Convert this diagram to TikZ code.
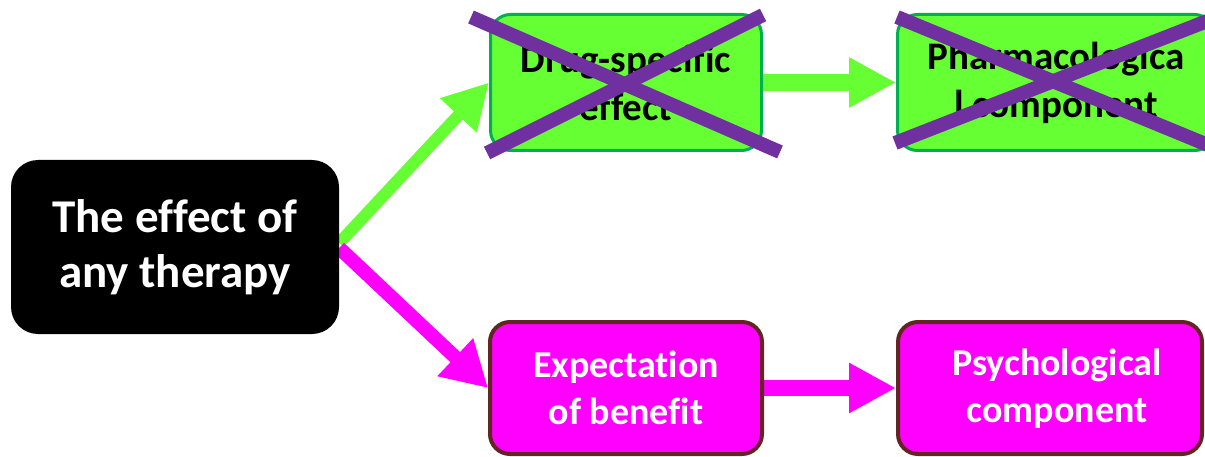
\documentclass[tikz,border=0pt]{standalone}
\usepackage{fontspec}
\setmainfont{Carlito}[Ligatures=NoCommon]
\usetikzlibrary{arrows.meta,backgrounds}
\definecolor{lgreen}{HTML}{66FF33}
\definecolor{dgreen}{HTML}{00B050}
\definecolor{magc}{HTML}{FF00FF}
\definecolor{brownc}{HTML}{632523}
\definecolor{purp}{HTML}{7030A0}
\tikzset{
  blackbox/.style={fill=black, rounded corners=27pt, minimum width=328pt, minimum height=174pt,
    text=white, font=\fontsize{47}{55}\selectfont\bfseries, align=center, inner sep=0pt},
  greenbox/.style={fill=lgreen, draw=dgreen, line width=3pt, rounded corners=20pt,
    minimum height=136pt, text=black, font=\fontsize{39}{48}\selectfont\bfseries, align=center, inner sep=0pt},
  magbox/.style={fill=magc, draw=brownc, line width=4pt, rounded corners=20pt,
    minimum height=132pt, text=white, font=\fontsize{38}{47}\selectfont\bfseries, align=center, inner sep=0pt},
  magtext/.style={text=white, font=\fontsize{38}{47}\selectfont\bfseries, align=center, inner sep=0pt},
  garrow/.style={draw=lgreen, line width=12pt, -{Triangle[length=45pt,width=47pt]}},
  marrow/.style={draw=magc, line width=14pt, -{Triangle[length=45pt,width=49pt]}},
  garrowh/.style={draw=lgreen, line width=17pt, -{Triangle[length=47pt,width=47pt]}},
  marrowh/.style={draw=magc, line width=16pt, -{Triangle[length=47pt,width=47pt]}},
  cross/.style={draw=purp, line width=14pt}
}
\begin{document}
\begin{tikzpicture}[x=1pt,y=-1pt]
\useasboundingbox (0,0) rectangle (1205,457);
\node[blackbox] (eff) at (175,247) {The effect of\\any therapy};
\node[greenbox, minimum width=271pt] (drug) at (626,82.5) {Drug-specific\\effect};
\node[greenbox, minimum width=317pt] (pharm) at (1056,82.5) {Pharmacologica\\l component};
\node[magbox, minimum width=272pt] (exp) at (626,388) {Expectation\\of benefit};
\node[magbox, minimum width=304pt] (psy) at (1050,388) {};
\node[magtext] (psyt) at (1057,389) {Psychological\\component};
\begin{scope}[on background layer]
\draw[garrow] ([yshift=4pt]eff.east) -- (drug.west);
\draw[marrow] ([yshift=-1pt]eff.east) -- (exp.west);
\draw[garrowh] (drug.east) -- (pharm.west);
\draw[marrowh] (exp.east) -- (psy.west);
\end{scope}
\draw[cross] (471,17) -- (780,152);
\draw[cross] (487,153) -- (763,15);
\draw[cross] (897,17) -- (1220,150);
\draw[cross] (895,143) -- (1220,16);
\end{tikzpicture}
\end{document}
